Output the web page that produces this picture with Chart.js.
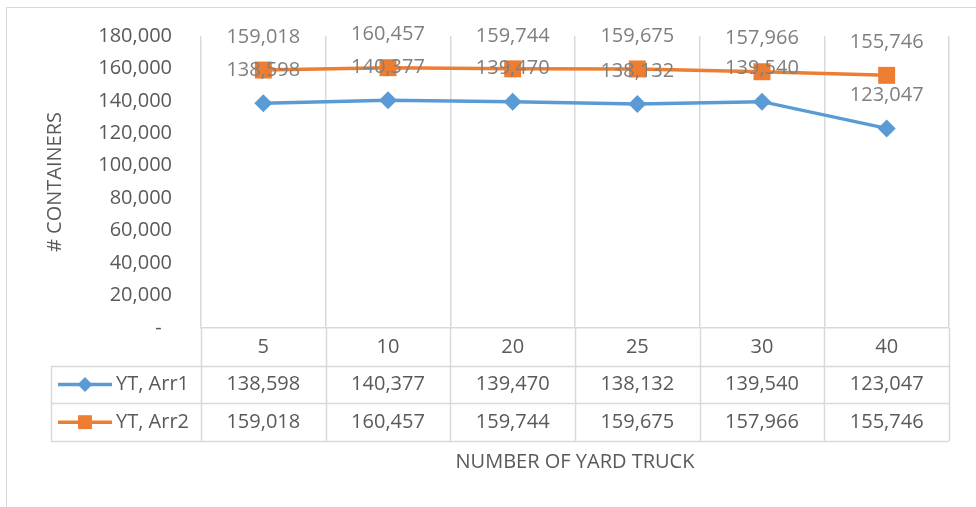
<!DOCTYPE html>
<html>
<head>
<meta charset="utf-8">
<script src="https://cdn.jsdelivr.net/npm/chart.js@4"></script>
<style>
  body { margin: 0; background: #fff; }
  #wrap { width: 976px; height: 507px; }
</style>
</head>
<body>
<div id="wrap"><canvas id="chart" width="976" height="507"></canvas></div>
<script>
// Data
const trucks = ['5', '10', '20', '25', '30', '40'];
const arr1 = [138598, 140377, 139470, 138132, 139540, 123047];
const arr2 = [159018, 160457, 159744, 159675, 157966, 155746];
const seriesNames = ['YT, Arr1', 'YT, Arr2'];
const yMax = 180000;
const yStep = 20000;

const BLUE = '#5B9BD5';
const ORANGE = '#ED7D31';
const GRID = '#D9D9D9';
const TEXT = '#595959';
const FONT = '"Open Sans", sans-serif';

const fmt = v => v.toLocaleString('en-US');

// white background + outer chart frame
const framePlugin = {
    id: 'frame',
    beforeDraw(chart) {
        const ctx = chart.ctx;
        ctx.save();
        ctx.fillStyle = '#fff';
        ctx.fillRect(0, 0, chart.width, chart.height);
        ctx.strokeStyle = GRID;
        ctx.lineWidth = 1;
        ctx.strokeRect(6.5, 7.5, 1000, 600);
        ctx.restore();
    }
};

// value labels above each point
const labelPlugin = {
    id: 'valueLabels',
    afterDatasetsDraw(chart) {
        const ctx = chart.ctx;
        ctx.save();
        ctx.font = '20px ' + FONT;
        ctx.fillStyle = '#7F7F7F';
        ctx.textAlign = 'center';
        ctx.textBaseline = 'middle';
        chart.data.datasets.forEach((ds, di) => {
            chart.getDatasetMeta(di).data.forEach((pt, i) => {
                ctx.fillText(fmt(ds.data[i]), pt.x, pt.y - 33);
            });
        });
        ctx.restore();
    }
};

// data table under the plot
const tablePlugin = {
    id: 'dataTable',
    afterDraw(chart) {
        const ctx = chart.ctx;
        const area = chart.chartArea;
        const xs = chart.scales.x;
        const n = trucks.length;
        const step = (area.right - area.left) / n;
        const rowH = 37.7;
        const top = area.bottom;
        const rowTops = [top + rowH, top + rowH * 2];
        const bottom = top + rowH * 3;
        const legLeft = area.left - 150;

        ctx.save();
        ctx.strokeStyle = GRID;
        ctx.lineWidth = 1.5;
        ctx.beginPath();
        for (let i = 0; i <= n; i++) {
            const bx = Math.round(xs.getPixelForValue(i) - step / 2) + 0.5;
            ctx.moveTo(bx, top);
            ctx.lineTo(bx, bottom);
        }
        ctx.moveTo(Math.round(legLeft) + 0.5, rowTops[0]);
        ctx.lineTo(Math.round(legLeft) + 0.5, bottom);
        [rowTops[0], rowTops[1], bottom].forEach(y => {
            const yy = Math.round(y) + 0.5;
            ctx.moveTo(legLeft, yy);
            ctx.lineTo(area.right, yy);
        });
        ctx.stroke();

        ctx.font = '20px ' + FONT;
        ctx.fillStyle = TEXT;
        ctx.textAlign = 'center';
        ctx.textBaseline = 'middle';
        trucks.forEach((t, i) => {
            ctx.fillText(t, xs.getPixelForValue(i), top + rowH / 2);
        });
        chart.data.datasets.forEach((ds, di) => {
            const cy = rowTops[di] + rowH / 2;
            ds.data.forEach((v, i) => {
                ctx.fillText(fmt(v), xs.getPixelForValue(i), cy);
            });
            // legend key
            ctx.strokeStyle = ds.borderColor;
            ctx.lineWidth = 3.5;
            ctx.beginPath();
            ctx.moveTo(legLeft + 7, cy);
            ctx.lineTo(legLeft + 61, cy);
            ctx.stroke();
            ctx.fillStyle = ds.borderColor;
            Chart.helpers.drawPoint(ctx, {
                pointStyle: ds.pointStyle,
                radius: ds.pointRadius * 0.8,
                rotation: 0,
                borderWidth: 0
            }, legLeft + 34, cy);
            ctx.fill();
            ctx.fillStyle = TEXT;
            ctx.textAlign = 'left';
            ctx.fillText(seriesNames[di], legLeft + 65, cy);
            ctx.textAlign = 'center';
        });
        ctx.restore();
    }
};

new Chart(document.getElementById('chart'), {
    type: 'line',
    data: {
        labels: trucks,
        datasets: [{
            label: seriesNames[0],
            data: arr1,
            borderColor: BLUE,
            backgroundColor: BLUE,
            borderWidth: 3.5,
            pointStyle: 'rectRot',
            pointRadius: 9,
            pointBorderWidth: 0,
            tension: 0
        }, {
            label: seriesNames[1],
            data: arr2,
            borderColor: ORANGE,
            backgroundColor: ORANGE,
            borderWidth: 3.5,
            pointStyle: 'rect',
            pointRadius: 12,
            pointBorderWidth: 0,
            tension: 0
        }]
    },
    options: {
        responsive: false,
        animation: false,
        layout: { padding: { top: 36, right: 27, bottom: 33, left: 0 } },
        plugins: {
            legend: { display: false },
            tooltip: { enabled: false }
        },
        scales: {
            x: {
                offset: true,
                grid: { offset: true, color: GRID, lineWidth: 1.5, drawTicks: false },
                border: { color: GRID, width: 1.5 },
                ticks: { display: false },
                title: {
                    display: true,
                    text: 'NUMBER OF YARD TRUCK',
                    color: TEXT,
                    font: { family: FONT, size: 20 },
                    padding: { top: 122, bottom: 0 }
                }
            },
            y: {
                min: 0,
                max: yMax,
                grid: { display: false, drawTicks: true, tickLength: 26 },
                border: { display: false },
                ticks: {
                    stepSize: yStep,
                    padding: 3,
                    color: TEXT,
                    font: { family: FONT, size: 20 },
                    callback: v => v === 0 ? '-  ' : fmt(v)
                },
                title: {
                    display: true,
                    text: '# CONTAINERS',
                    color: TEXT,
                    font: { family: FONT, size: 20 },
                    padding: { top: 43, bottom: 0 }
                },
                afterFit: s => { s.width = 201; }
            }
        }
    },
    plugins: [framePlugin, labelPlugin, tablePlugin]
});
</script>
</body>
</html>
